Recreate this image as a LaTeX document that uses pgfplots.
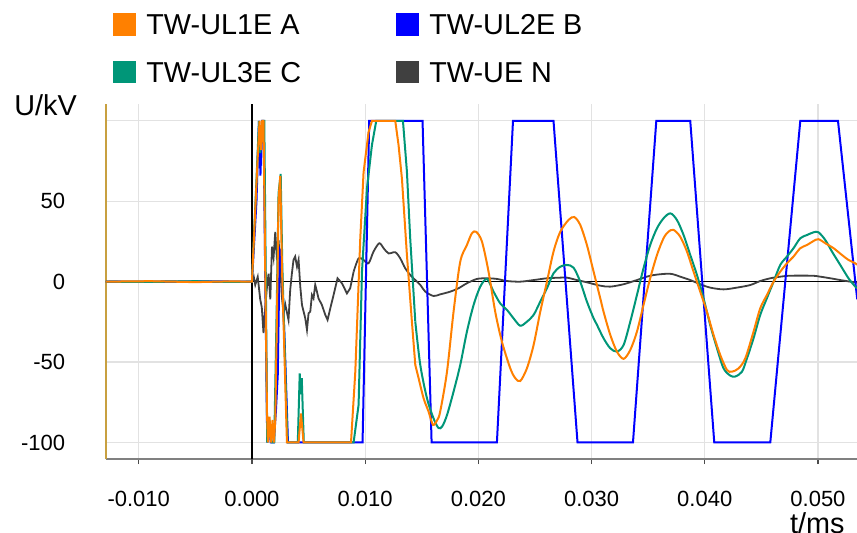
\documentclass[border=0pt]{standalone}
\usepackage{fontspec}
\setmainfont{Liberation Sans}
\usepackage{pgfplots}
\pgfplotsset{compat=1.18}
\usepackage{pgfplotstable}

\definecolor{cA}{RGB}{255,128,0}
\definecolor{cB}{RGB}{0,0,255}
\definecolor{cC}{RGB}{0,150,120}
\definecolor{cN}{RGB}{64,64,64}
\definecolor{axtan}{RGB}{200,160,64}
\definecolor{gridc}{RGB}{226,226,226}

% TW-UL1E A, burst and first swing
\pgfplotstableread{
t u
-0.0129 0
-0.0090 0.3
-0.0050 -0.3
-0.0020 0.2
0.00000 0
0.00044 67.4
0.00067 100
0.00080 81.9
0.00091 100
0.00102 100
0.00117 9.3
0.00133 -81.9
0.00141 -100
0.00155 -84
0.00168 -100
0.00182 -86
0.00194 -100
0.00206 -86
0.00221 -19.7
0.00235 50.8
0.00250 65.7
0.00265 9.3
0.00294 -63
0.00309 -100
0.00412 -100
0.00433 -82
0.00456 -100
0.00875 -100
0.00913 -56
0.00957 27
0.00986 68
0.01030 93
0.01060 100
0.01266 100
0.01295 85
0.01325 64
0.01369 16.6
0.01413 -24.9
0.01443 -51.8
}\dataAa
% TW-UL1E A, ringing
\pgfplotstableread{
t u
0.01443 -51.8
0.01472 -60
0.01516 -72.5
0.01560 -80.8
0.01599 -89
0.01637 -86
0.01663 -80.8
0.01723 -56
0.01781 -18.7
0.01840 12.4
0.01899 22.8
0.01943 30.1
0.01981 31
0.02032 24.9
0.02090 6.2
0.02149 -18.7
0.02208 -37.3
0.02282 -53.9
0.02326 -60
0.02370 -61.8
0.02429 -53.9
0.02488 -39.4
0.02547 -18.7
0.02606 0
0.02664 18.7
0.02724 31.1
0.02797 38.4
0.02847 40.2
0.02900 35.3
0.02959 22.8
0.03018 6.2
0.03077 -10.3
0.03106 -18.7
0.03165 -33
0.03224 -43.5
0.03283 -48
0.03342 -42.5
0.03401 -31.1
0.03459 -14.5
0.03518 2.1
0.03578 16.6
0.03636 27
0.03680 31.1
0.03724 32.2
0.03783 28
0.03843 18.7
0.03901 6.2
0.03960 -6.2
0.04019 -18.7
0.04078 -33.2
0.04137 -45.6
0.04196 -54.9
0.04240 -56
0.04299 -53.9
0.04358 -47.7
0.04431 -31.1
0.04490 -16.6
0.04549 -8.3
0.04608 0
0.04667 6.2
0.04726 11.4
0.04784 15.6
0.04844 20.8
0.04903 22.8
0.04961 25.3
0.05005 26.4
0.05065 23.9
0.05138 20.8
0.05212 16.6
0.05270 13.5
0.05330 11.4
0.05347 10.5
}\dataAb

% TW-UL2E B
\pgfplotstableread{
t u
-0.0129 0
-0.0080 -0.2
-0.0040 0.2
0.00000 0
0.00040 50
0.00062 100
0.00075 66
0.00090 100
0.00102 100
0.00117 5
0.00135 -100
0.00148 -86
0.00166 -100
0.00193 -100
0.00212 -80
0.00228 -58
0.00245 20
0.00258 18
0.00270 -2
0.00290 -40
0.00318 -100
0.00977 -100
0.01036 100
0.01507 100
0.01587 -100
0.02164 -100
0.02306 100
0.02664 100
0.02876 -100
0.03366 -100
0.03572 100
0.03872 100
0.04084 -100
0.04579 -100
0.04844 100
0.05177 100
0.05347 -11
}\dataB

% TW-UL3E C, burst and first swing
\pgfplotstableread{
t u
-0.0129 0
-0.0090 -0.2
-0.0050 0.3
-0.0020 -0.2
0.00000 0
0.00038 60
0.00062 100
0.00073 80
0.00095 100
0.00109 100
0.00122 5
0.00135 -100
0.00162 -90
0.00175 -100
0.00197 -100
0.00219 -15
0.00235 55
0.00254 67
0.00268 10
0.00299 -65
0.00314 -100
0.00405 -100
0.00422 -57
0.00431 -70
0.00440 -60
0.00458 -100
0.00898 -100
0.00942 -76.7
0.00972 6.2
0.01016 58
0.01060 85
0.01098 100
0.01334 100
0.01369 68.4
0.01398 27
0.01443 -24.9
}\dataCa
% TW-UL3E C, ringing
\pgfplotstableread{
t u
0.01443 -24.9
0.01487 -51.8
0.01546 -72.5
0.01604 -85
0.01648 -91
0.01681 -90
0.01723 -83
0.01781 -68.4
0.01840 -51.8
0.01899 -31.1
0.01958 -14.5
0.02017 -3.1
0.02076 1.7
0.02134 -6.2
0.02193 -13.5
0.02253 -17.6
0.02311 -22.8
0.02370 -27.4
0.02429 -24.9
0.02488 -20.7
0.02547 -12.4
0.02606 -4.1
0.02664 5.2
0.02724 9.3
0.02783 10.4
0.02841 8.7
0.02900 0
0.02959 -12.4
0.03018 -22.8
0.03048 -26.9
0.03106 -35.2
0.03165 -41.4
0.03224 -43.5
0.03283 -39.4
0.03342 -24.9
0.03401 -8.3
0.03459 8.3
0.03518 22.8
0.03578 33.2
0.03636 39.4
0.03696 42.5
0.03754 38.4
0.03813 29
0.03872 16.6
0.03931 4.2
0.03989 -10.3
0.04048 -26.9
0.04108 -41.4
0.04166 -53.9
0.04225 -58.4
0.04269 -59
0.04329 -56
0.04373 -47.7
0.04431 -35.2
0.04490 -20.7
0.04549 -10.3
0.04608 0
0.04667 10.4
0.04726 15.6
0.04784 20.8
0.04844 27
0.04903 29
0.04961 30.7
0.05005 30.7
0.05065 25.9
0.05124 18.7
0.05197 10.4
0.05270 2.1
0.05330 -3.1
0.05347 -4
}\dataCb

% TW-UE N, burst
\pgfplotstableread{
t u
-0.0129 0
-0.0070 0.2
-0.0030 -0.2
0.00000 0
0.00016 3
0.00029 -2
0.00051 3
0.00073 -11
0.00087 -16
0.00102 -32
0.00113 -20
0.00133 -3
0.00147 5
0.00162 -11
0.00177 21.8
0.00191 15
0.00206 31
0.00221 13.5
0.00235 26
0.00250 9.3
0.00265 -10
0.00279 -19.7
0.00294 -14
0.00323 -23.8
0.00338 -5
0.00353 5.2
0.00367 13.5
0.00382 15.6
0.00398 9.3
0.00412 13.5
0.00427 -3.1
0.00442 -14.5
0.00471 -22.8
0.00486 -30
0.00500 -19.7
0.00515 -18.7
0.00530 -8.3
0.00544 -10.4
0.00559 -2
0.00574 -6.2
0.00588 -10.4
0.00618 -14.5
0.00648 -20.7
0.00668 -23.8
0.00692 -16.6
0.00721 -8.3
0.00756 2.1
0.00795 -1
0.00839 -7.3
0.00868 -4.1
0.00898 6.2
}\dataNa
% TW-UE N, after the burst
\pgfplotstableread{
t u
0.00898 6.2
0.00942 14.5
0.00986 13.5
0.01030 11.4
0.01074 18.7
0.01125 23.9
0.01163 20.8
0.01207 17.6
0.01266 18.3
0.01310 14.5
0.01354 8.3
0.01398 4.2
0.01443 1
0.01487 -2
0.01531 -6.2
0.01604 -8.9
0.01663 -7.9
0.01752 -6.2
0.01825 -4.1
0.01899 -1
0.01988 1.7
0.02076 2.1
0.02164 1.7
0.02253 0.4
0.02370 0
0.02488 1
0.02606 2.1
0.02724 2.5
0.02783 2.5
0.02871 1
0.02959 -0.4
0.03077 -2.5
0.03165 -3.1
0.03283 -1.6
0.03401 1
0.03518 3.7
0.03636 4.8
0.03710 4.8
0.03783 3.1
0.03872 1
0.03960 -1.6
0.04048 -3.7
0.04166 -4.8
0.04284 -3.7
0.04402 -2.1
0.04490 0.4
0.04579 2.1
0.04667 3.1
0.04755 3.7
0.04947 3.7
0.05021 3.1
0.05110 2.1
0.05198 1
0.05286 0
0.05347 -0.6
}\dataNb

\begin{document}
\begin{tikzpicture}
\begin{axis}[
    at={(52.85pt,36.5pt)}, anchor=south west,
    scale only axis,
    width=375.65pt, height=177.5pt,
    xmin=-0.01292, xmax=0.05345,
    ymin=-110.3, ymax=110.5,
    axis x line*=bottom, axis y line*=left,
    x axis line style={-, draw=gray, line width=1.2pt},
    y axis line style={-, draw=axtan, line width=0.85pt},
    xtick={-0.01,0.01,0.02,0.03,0.04,0.05},
    xticklabels={-0.010,0.010,0.020,0.030,0.040,0.050},
    extra x ticks={0}, extra x tick labels={0.000},
    ytick={-100,-50,50,100},
    yticklabels={-100,-50,50,{}},
    extra y ticks={0}, extra y tick labels={0},
    extra x tick style={grid=major, major grid style={draw=black, line width=0.75pt}},
    extra y tick style={grid=major, major grid style={draw=black, line width=0.75pt}},
    grid=major,
    major grid style={draw=gridc, line width=0.6pt},
    tick align=outside,
    major tick length=2.5pt,
    xtick style={draw=black!70, line width=0.6pt},
    ytick style={draw=none},
    tick label style={font=\fontsize{11}{13}\selectfont},
    xticklabel style={anchor=north, inner sep=0pt, yshift=-13.35pt},
    yticklabel style={anchor=east, inner sep=0pt, xshift=-17.6pt},
    xlabel={t/ms}, ylabel={U/kV},
    every axis x label/.style={at={(axis description cs:0,0)}, anchor=base west,
        xshift=341.95pt, yshift=-37.3pt, inner sep=0pt, font=\fontsize{14.4}{17}\selectfont},
    every axis y label/.style={at={(axis description cs:0,1)}, anchor=base west,
        xshift=-45.85pt, yshift=-5.5pt, inner sep=0pt, font=\fontsize{14.4}{17}\selectfont},
    legend columns=2,
    legend image code/.code={\fill[#1] (0pt,-5.15pt) rectangle (10.5pt,5.15pt);},
    legend style={at={(axis description cs:0,1)}, anchor=north west,
        xshift=3.5pt, yshift=45.65pt, draw=none, fill=none,
        inner xsep=0pt, inner ysep=0pt,
        font=\fontsize{14.4}{17}\selectfont,
        nodes={inner sep=0pt, text height=10pt, text depth=0pt},
        column sep=5.15pt, row sep=12.55pt,
        /tikz/every even column/.append style={column sep=47.5pt}},
    legend cell align=left,
    every axis plot/.append style={line width=1pt},
]
\addplot[cN, line width=0.9pt, forget plot] table[x=t, y=u] {\dataNa};
\addplot[cN, line width=0.9pt, smooth, forget plot] table[x=t, y=u] {\dataNb};
\addplot[cB, forget plot] table[x=t, y=u] {\dataB};
\addplot[cC, forget plot] table[x=t, y=u] {\dataCa};
\addplot[cC, smooth, forget plot] table[x=t, y=u] {\dataCb};
\addplot[cA, forget plot] table[x=t, y=u] {\dataAa};
\addplot[cA, smooth, forget plot] table[x=t, y=u] {\dataAb};
\addlegendimage{cA}\addlegendentry{TW-UL1E A}
\addlegendimage{cB}\addlegendentry{TW-UL2E B}
\addlegendimage{cC}\addlegendentry{TW-UL3E C}
\addlegendimage{cN}\addlegendentry{TW-UE N}
\end{axis}
\pgfresetboundingbox
\path[use as bounding box] (0pt,0pt) rectangle (428.5pt,266pt);
\end{tikzpicture}
\end{document}
